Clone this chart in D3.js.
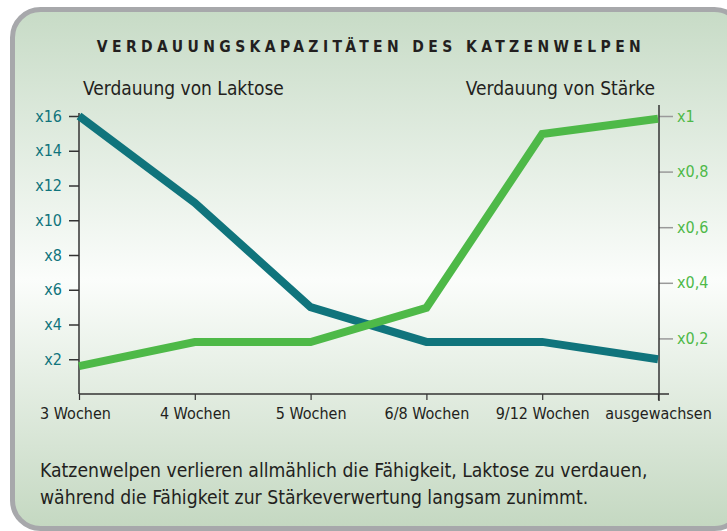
<!DOCTYPE html>
<html lang="de">
    <head>
        <meta charset="utf-8">
        <title>Verdauungskapazitäten</title>
        <script type="text/javascript" src="https://cdn.jsdelivr.net/npm/d3@7"></script>
        <style type="text/css">
            body { margin: 0; background: #ffffff; }
            svg text { font-family: "Liberation Sans Narrow", "DejaVu Sans Condensed", sans-serif; }
        </style>
    </head>
    <body>
        <script type="text/javascript">
            var w = 727;
            var h = 531;

            // Data
            var categories = ["3 Wochen", "4 Wochen", "5 Wochen", "6/8 Wochen", "9/12 Wochen", "ausgewachsen"];
            var laktose = [16, 11, 5, 3, 3, 2];
            var staerke = [0.1, 0.187, 0.187, 0.31, 0.935, 0.99];
            var leftTicks = [2, 4, 6, 8, 10, 12, 14, 16];
            var rightTicks = [0.2, 0.4, 0.6, 0.8, 1];

            var teal = "#10747c";
            var green = "#4eb948";
            var fontStack = "\"Liberation Sans Narrow\", \"DejaVu Sans Condensed\", sans-serif";

            var xScale = d3.scalePoint()
                .domain(categories)
                .range([79, 658]);

            var yLeft = d3.scaleLinear()
                .domain([0, 16])
                .range([394, 116]);

            var yRight = d3.scaleLinear()
                .domain([0, 1])
                .range([394, 116]);

            var svg = d3.select("body")
                .append("svg")
                .attr("width", w)
                .attr("height", h);

            // card background
            var grad = svg.append("defs").append("linearGradient")
                .attr("id", "bg")
                .attr("x1", 0).attr("y1", 0).attr("x2", 0).attr("y2", 1);
            grad.append("stop").attr("offset", "0%").attr("stop-color", "#c7dbc6");
            grad.append("stop").attr("offset", "52%").attr("stop-color", "#fbfdfb");
            grad.append("stop").attr("offset", "100%").attr("stop-color", "#c4d8c1");

            svg.append("rect")
                .attr("x", 12.5).attr("y", 9.5)
                .attr("width", 730).attr("height", 519)
                .attr("rx", 28)
                .attr("fill", "url(#bg)")
                .attr("stroke", "#a7a8ab")
                .attr("stroke-width", 5);

            // title
            svg.append("text")
                .attr("x", 371).attr("y", 52)
                .attr("text-anchor", "middle")
                .attr("font-size", "15.5px")
                .attr("font-weight", "bold")
                .attr("letter-spacing", "4.4px")
                .attr("fill", "#231f20")
                .text("VERDAUUNGSKAPAZITÄTEN DES KATZENWELPEN");

            svg.append("text")
                .attr("x", 83).attr("y", 95)
                .attr("font-size", "19px")
                .attr("fill", "#231f20")
                .text("Verdauung von Laktose");

            svg.append("text")
                .attr("x", 655).attr("y", 95)
                .attr("text-anchor", "end")
                .attr("font-size", "19px")
                .attr("fill", "#231f20")
                .text("Verdauung von Stärke");

            // left axis
            var yAxisL = d3.axisLeft(yLeft)
                .tickValues(leftTicks)
                .tickSize(10)
                .tickPadding(7)
                .tickFormat(function(d) { return "x" + d; });

            var gL = svg.append("g")
                .attr("transform", "translate(79,0)")
                .call(yAxisL);
            gL.select(".domain").remove();
            gL.selectAll("line").attr("stroke", "#333").attr("stroke-width", 1.5);
            gL.selectAll("text")
                .attr("font-size", "16px")
                .attr("fill", teal)
                .style("font-family", fontStack);

            // right axis
            var yAxisR = d3.axisRight(yRight)
                .tickValues(rightTicks)
                .tickSize(14)
                .tickPadding(4)
                .tickFormat(function(d) { return "x" + String(d).replace(".", ","); });

            var gR = svg.append("g")
                .attr("transform", "translate(659,0)")
                .call(yAxisR);
            gR.select(".domain").remove();
            gR.selectAll("line").attr("stroke", "#9a9a9a").attr("stroke-width", 1.5);
            gR.selectAll("text")
                .attr("font-size", "16px")
                .attr("fill", green)
                .style("font-family", fontStack);

            // bottom axis
            var xAxis = d3.axisBottom(xScale)
                .tickSize(6)
                .tickPadding(8);

            var gB = svg.append("g")
                .attr("transform", "translate(0,394)")
                .call(xAxis);
            gB.select(".domain").remove();
            gB.selectAll("line").attr("stroke", "#333").attr("stroke-width", 1.2);
            gB.selectAll("text")
                .attr("font-size", "16px")
                .attr("fill", "#231f20")
                .style("font-family", fontStack);
            // first label sits a little left of its tick
            gB.select(".tick text").attr("dx", "-4");

            // axis lines
            svg.append("line")
                .attr("x1", 79).attr("x2", 79)
                .attr("y1", yLeft(16) - 3).attr("y2", 394)
                .attr("stroke", "#333").attr("stroke-width", 1.5);
            svg.append("line")
                .attr("x1", 659).attr("x2", 659)
                .attr("y1", yRight(1) - 11).attr("y2", 401)
                .attr("stroke", "#333").attr("stroke-width", 1.5);
            svg.append("line")
                .attr("x1", 79).attr("x2", 669)
                .attr("y1", 394).attr("y2", 394)
                .attr("stroke", "#333").attr("stroke-width", 1.5);

            // lines
            var lineL = d3.line()
                .x(function(d, i) { return xScale(categories[i]); })
                .y(function(d) { return yLeft(d); });
            var lineR = d3.line()
                .x(function(d, i) { return xScale(categories[i]); })
                .y(function(d) { return yRight(d); });

            svg.append("path")
                .datum(laktose)
                .attr("d", lineL)
                .attr("fill", "none")
                .attr("stroke", teal)
                .attr("stroke-width", 8)
                .attr("stroke-linejoin", "miter");

            svg.append("path")
                .datum(staerke)
                .attr("d", lineR)
                .attr("fill", "none")
                .attr("stroke", green)
                .attr("stroke-width", 8)
                .attr("stroke-linejoin", "miter");

            // caption
            var caption = ["Katzenwelpen verlieren allmählich die Fähigkeit, Laktose zu verdauen,",
                           "während die Fähigkeit zur Stärkeverwertung langsam zunimmt."];
            svg.selectAll(".cap")
                .data(caption)
                .enter()
                .append("text")
                .attr("class", "cap")
                .attr("x", 40)
                .attr("y", function(d, i) { return 477 + i * 27; })
                .attr("font-size", "19.2px")
                .attr("fill", "#231f20")
                .text(function(d) { return d; });
        </script>
    </body>
</html>
